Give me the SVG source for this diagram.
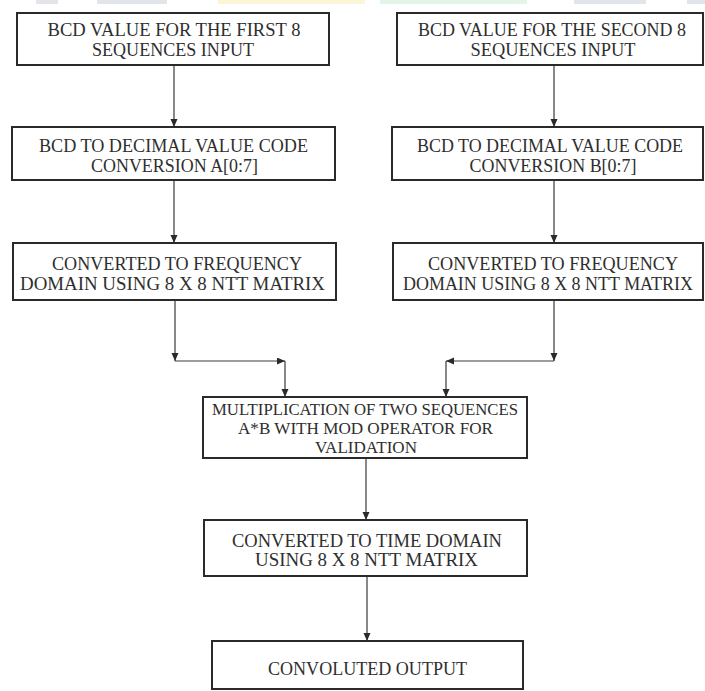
<svg xmlns="http://www.w3.org/2000/svg" width="705" height="691" viewBox="0 0 705 691">
  <defs>
    <style>
      .box { fill: #ffffff; stroke: #2a2a2a; stroke-width: 2; }
      .t { font-family: "Liberation Serif", "Times New Roman", serif; font-size: 18.5px; fill: #2e2e2e; text-anchor: middle; }
      .tr { font-size: 17.8px; }
      .ts { font-size: 16.8px; }
      .conn { fill: none; stroke: #3a3a3a; stroke-width: 1.2; }
      .strip { stroke: none; }
    </style>
    <marker id="arrow" markerWidth="8" markerHeight="8" refX="8" refY="3.5" orient="auto" markerUnits="userSpaceOnUse">
      <path d="M0,0 L8,3.5 L0,7 z" fill="#2a2a2a"/>
    </marker>
  </defs>
  <rect width="705" height="691" fill="#ffffff"/>

  <g id="header-strip">
    <rect class="strip" x="36" y="0" width="22" height="4" fill="#e2e6ea"/>
    <rect class="strip" x="97" y="0" width="70" height="4" fill="#e2e6ea"/>
    <rect class="strip" x="218" y="0" width="147" height="4" fill="#fbf6d6"/>
    <rect class="strip" x="380" y="0" width="147" height="4" fill="#e3f5e7"/>
    <rect class="strip" x="574" y="0" width="72" height="4" fill="#e2e6ea"/>
    <rect class="strip" x="687" y="0" width="18" height="4" fill="#e2e6ea"/>
  </g>

  <g id="connectors">
    <line class="conn" x1="174" y1="65" x2="174" y2="127" marker-end="url(#arrow)"/>
    <line class="conn" x1="554" y1="65" x2="554" y2="127" marker-end="url(#arrow)"/>
    <line class="conn" x1="174" y1="180" x2="174" y2="243" marker-end="url(#arrow)"/>
    <line class="conn" x1="554" y1="180" x2="554" y2="243" marker-end="url(#arrow)"/>
    <line class="conn" x1="175" y1="300" x2="175" y2="361" marker-end="url(#arrow)"/>
    <line class="conn" x1="175" y1="361" x2="285" y2="361" marker-end="url(#arrow)"/>
    <line class="conn" x1="285" y1="361" x2="285" y2="397" marker-end="url(#arrow)"/>
    <line class="conn" x1="554" y1="300" x2="554" y2="361" marker-end="url(#arrow)"/>
    <line class="conn" x1="554" y1="361" x2="446" y2="361" marker-end="url(#arrow)"/>
    <line class="conn" x1="446" y1="361" x2="446" y2="397" marker-end="url(#arrow)"/>
    <line class="conn" x1="366" y1="458" x2="366" y2="520" marker-end="url(#arrow)"/>
    <line class="conn" x1="367" y1="576" x2="367" y2="641" marker-end="url(#arrow)"/>
  </g>

  <g id="input-a">
    <rect class="box" x="17" y="13" width="312" height="52"/>
    <text class="t" x="174" y="36" textLength="253" lengthAdjust="spacingAndGlyphs">BCD VALUE FOR THE FIRST 8</text>
    <text class="t" x="173" y="56" textLength="162" lengthAdjust="spacingAndGlyphs">SEQUENCES INPUT</text>
  </g>

  <g id="input-b">
    <rect class="box" x="397" y="13" width="306" height="52"/>
    <text class="t tr" x="552" y="36" textLength="268" lengthAdjust="spacingAndGlyphs">BCD VALUE FOR THE SECOND 8</text>
    <text class="t tr" x="553" y="56" textLength="165" lengthAdjust="spacingAndGlyphs">SEQUENCES INPUT</text>
  </g>

  <g id="decimal-a">
    <rect class="box" x="12" y="127" width="323" height="53"/>
    <text class="t" x="173.5" y="152" textLength="269" lengthAdjust="spacingAndGlyphs">BCD TO DECIMAL VALUE CODE</text>
    <text class="t" x="174.5" y="172" textLength="167" lengthAdjust="spacingAndGlyphs">CONVERSION A[0:7]</text>
  </g>

  <g id="decimal-b">
    <rect class="box" x="392" y="127" width="311" height="53"/>
    <text class="t tr" x="550" y="152" textLength="266" lengthAdjust="spacingAndGlyphs">BCD TO DECIMAL VALUE CODE</text>
    <text class="t tr" x="553" y="172" textLength="167" lengthAdjust="spacingAndGlyphs">CONVERSION B[0:7]</text>
  </g>

  <g id="freq-a">
    <rect class="box" x="13" y="243" width="323" height="57"/>
    <text class="t" x="177" y="270" textLength="250" lengthAdjust="spacingAndGlyphs">CONVERTED TO FREQUENCY</text>
    <text class="t" x="172.5" y="290" textLength="305" lengthAdjust="spacingAndGlyphs">DOMAIN USING 8 X 8 NTT MATRIX</text>
  </g>

  <g id="freq-b">
    <rect class="box" x="393" y="243" width="310" height="57"/>
    <text class="t tr" x="553" y="270" textLength="250" lengthAdjust="spacingAndGlyphs">CONVERTED TO FREQUENCY</text>
    <text class="t tr" x="548" y="290" textLength="290" lengthAdjust="spacingAndGlyphs">DOMAIN USING 8 X 8 NTT MATRIX</text>
  </g>

  <g id="multiply">
    <rect class="box" x="203" y="397" width="324" height="61"/>
    <text class="t ts" x="365" y="415" textLength="306" lengthAdjust="spacingAndGlyphs">MULTIPLICATION OF TWO SEQUENCES</text>
    <text class="t ts" x="365.5" y="434" textLength="255" lengthAdjust="spacingAndGlyphs">A*B WITH MOD OPERATOR FOR</text>
    <text class="t ts" x="366" y="453" textLength="102" lengthAdjust="spacingAndGlyphs">VALIDATION</text>
  </g>

  <g id="time-domain">
    <rect class="box" x="204" y="520" width="323" height="56"/>
    <text class="t" x="367" y="547" textLength="270" lengthAdjust="spacingAndGlyphs">CONVERTED TO TIME DOMAIN</text>
    <text class="t" x="366.5" y="566" textLength="223" lengthAdjust="spacingAndGlyphs">USING 8 X 8 NTT MATRIX</text>
  </g>

  <g id="output">
    <rect class="box" x="212" y="641" width="311" height="48"/>
    <text class="t" x="367.5" y="675" textLength="199" lengthAdjust="spacingAndGlyphs">CONVOLUTED OUTPUT</text>
  </g>
</svg>
